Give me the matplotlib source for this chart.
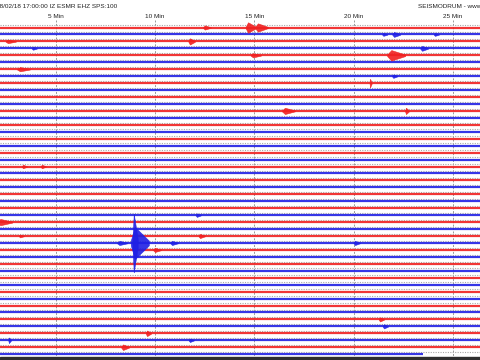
import matplotlib
matplotlib.use('Agg')
import matplotlib.pyplot as plt
import numpy as np

# helicorder layout: 48 rows of 30 minutes, red/blue alternating
n_rows = 48
row_colors = ['#f02020', '#2020e4']
last_row_end = 23.51          # minute where the current (last) row stops
minute_ticks = [5, 10, 15, 20, 25]
minute_labels = ['5 Min', '10 Min', '15 Min', '20 Min', '25 Min']
title_left = '18/02/18 17:00:00 IZ ESMR EHZ SPS:100'
title_right = 'SEISMODRUM - www.seismodrum.com'

# events: (row, minute, half amplitude in rows, duration in min)
ev_rows = [0, 0, 0, 1, 1, 1, 2, 2, 3, 3, 4, 4, 6, 7, 8, 12, 12, 20, 20, 27,
           28, 30, 30, 31, 31, 31, 31, 31, 32, 42, 43, 44, 45, 45, 46]
ev_min = [14.68, 15.18, 12.5, 22.04, 24.1, 21.5, 11.75, 2.58, 23.45, 3.84,
          21.9, 14.93, 3.19, 22.0, 20.83, 16.54, 22.64, 3.34, 4.29, 12.1,
          2.2, 12.26, 3.19, 8.92, 8.98, 8.2, 10.85, 20.07, 9.99, 21.33, 21.53,
          9.59, 2.63, 11.75, 8.38]
ev_amp = [0.75, 0.6, 0.3, 0.35, 0.2, 0.2, 0.45, 0.25, 0.35, 0.2,
          0.75, 0.3, 0.3, 0.25, 0.6, 0.45, 0.45, 0.25, 0.25, 0.25,
          0.45, 0.3, 0.2, 4.2, 2.3, 0.3, 0.3, 0.3, 0.3, 0.3, 0.3,
          0.4, 0.4, 0.25, 0.4]
ev_dur = [0.4, 0.5, 0.3, 0.3, 0.2, 0.2, 0.25, 0.4, 0.3, 0.2,
          0.7, 0.4, 0.5, 0.2, 0.08, 0.5, 0.15, 0.2, 0.2, 0.2,
          0.6, 0.25, 0.2, 0.2, 0.7, 0.4, 0.3, 0.25, 0.3, 0.2, 0.2,
          0.2, 0.1, 0.2, 0.3]

x_min, x_max = 2.18, 26.37
px_row, y_first = 6.95, 27.5

fig = plt.figure(figsize=(4.8, 3.6), dpi=100)
ax = fig.add_axes([0, 0, 1, 1])
ax.set_xlim(x_min, x_max)
ax.set_ylim((360 - y_first) / px_row, -y_first / px_row)
ax.axis('off')

for m in minute_ticks:
    ax.vlines(m, -1.1, 47.4, color='#999999', lw=0.7, linestyles=(0, (2, 1.5)), zorder=1)

for r in range(n_rows):
    ax.hlines(r - 0.33, x_min, x_max, color='#a8a8a8', lw=0.8,
              linestyles=(0, (1, 1.2)), zorder=1)
    end = last_row_end if r == n_rows - 1 else x_max
    ax.hlines(r, x_min, end, color=row_colors[r % 2], lw=1.6, alpha=0.9, zorder=2)

for r, m, a, d in zip(ev_rows, ev_min, ev_amp, ev_dur):
    xs = np.linspace(m - 0.3 * d, m + d, 40)
    env = a * np.interp(xs, [m - 0.3 * d, m, m + d], [0.15, 1.0, 0.15])
    ax.fill_between(xs, r - env, r + env, color=row_colors[r % 2], lw=0.4,
                    edgecolor=row_colors[r % 2], alpha=0.9, zorder=3)

ax.axhspan(47.42, 48.5, color='#2e2e2e', zorder=4)

for m, lab in zip(minute_ticks, minute_labels):
    ax.text(m, -1.65, lab, ha='center', va='center', fontsize=4.6,
            family='Liberation Sans', color='#222222')
ax.text(x_min - 0.2, -2.95, title_left, ha='left', va='center', fontsize=4.6,
        family='Liberation Sans', color='#222222')
ax.text(23.25, -2.95, title_right, ha='left', va='center', fontsize=4.6,
        family='Liberation Sans', color='#222222')

fig.savefig('out.png', dpi=100)
